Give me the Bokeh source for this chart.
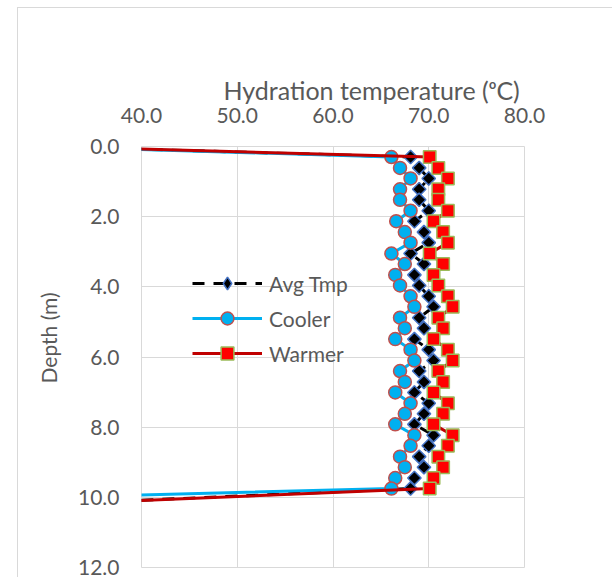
import math
from bokeh.plotting import figure
from bokeh.models import (Range1d, Legend, LegendItem, Title,
                          FixedTicker, NumeralTickFormatter)
from bokeh.embed import file_html
from bokeh.resources import INLINE

# ---------------- data ----------------
x_ticks = [40, 50, 60, 70, 80]
y_ticks = [0, 2, 4, 6, 8, 10, 12]

# depths of the measured points (m)
depth_pts = [0.30, 0.61, 0.91, 1.22, 1.52, 1.83, 2.13, 2.44, 2.74, 3.05,
             3.35, 3.66, 3.96, 4.27, 4.57, 4.88, 5.18, 5.49, 5.79, 6.10,
             6.40, 6.71, 7.01, 7.32, 7.62, 7.92, 8.23, 8.53, 8.84, 9.14,
             9.45, 9.75]

avg_tmp = [68.1, 69.0, 70.0, 69.0, 69.0, 70.0, 68.5, 69.5, 70.0, 68.1,
           69.5, 68.5, 69.0, 70.0, 70.5, 69.0, 69.5, 68.5, 70.0, 70.5,
           69.0, 69.5, 68.5, 70.0, 69.5, 68.5, 70.5, 70.0, 69.0, 69.5,
           68.5, 68.1]
cooler = [66.1, 67.0, 68.1, 67.0, 67.0, 68.1, 66.6, 67.5, 68.1, 66.1,
          67.5, 66.5, 67.0, 68.1, 68.5, 67.0, 67.5, 66.5, 68.1, 68.5,
          67.0, 67.5, 66.5, 68.1, 67.5, 66.5, 68.5, 68.1, 67.0, 67.5,
          66.5, 66.1]
warmer = [70.1, 71.0, 72.0, 71.0, 71.0, 72.0, 70.5, 71.5, 72.0, 70.1,
          71.5, 70.5, 71.0, 72.0, 72.5, 71.0, 71.5, 70.5, 72.0, 72.5,
          71.0, 71.5, 70.5, 72.0, 71.5, 70.5, 72.5, 72.0, 71.0, 71.5,
          70.5, 70.1]

# off-scale end points (surface / toe ambient temperature)
end_temp = 30.0
top_depth = 0.0
bottom_depth_avg = 10.2
bottom_depth_cooler = 10.0
bottom_depth_warmer = 10.2

series_names = ["Avg Tmp", "Cooler", "Warmer"]
x_title = "Hydration temperature (ᵒC)"
y_title = "Depth (m)"

# ---------------- figure ----------------
TXT = "#595959"
GRID = "#d9d9d9"
FONT = "Lato"

p = figure(width=595, height=570, output_backend="svg", toolbar_location=None,
           x_range=Range1d(40, 80), y_range=Range1d(12, 0),
           x_axis_location="above",
           min_border_left=121, min_border_right=89,
           min_border_top=138, min_border_bottom=11)
p.styles = {"margin-left": "17px", "margin-top": "7px",
            "border-left": "1px solid #d9d9d9",
            "border-top": "1px solid #d9d9d9"}
p.background_fill_color = "white"
p.border_fill_color = "white"
p.outline_line_color = GRID
p.outline_line_width = 1

for ax, ticks in ((p.xaxis, x_ticks), (p.yaxis, y_ticks)):
    ax.ticker = FixedTicker(ticks=ticks)
    ax.formatter = NumeralTickFormatter(format="0.0")
    ax.axis_line_color = None
    ax.major_tick_line_color = None
    ax.minor_tick_line_color = None
    ax.major_tick_out = 0
    ax.major_tick_in = 0
    ax.major_label_text_font = FONT
    ax.major_label_text_font_size = "21px"
    ax.major_label_text_color = TXT
p.xaxis.major_label_standoff = 24
p.yaxis.major_label_standoff = 22

p.xgrid.grid_line_color = GRID
p.ygrid.grid_line_color = GRID

# axis titles as side titles (allows Excel-like off-centre placement)
p.add_layout(Title(text=x_title, align="left", offset=82, standoff=0,
                   text_font=FONT, text_font_size="25px",
                   text_font_style="normal", text_color=TXT), "above")
p.add_layout(Title(text=y_title, align="left", offset=184, standoff=30,
                   text_font=FONT, text_font_size="21px",
                   text_font_style="normal", text_color=TXT), "left")

# ---------------- series ----------------
def full(vals, bottom_depth):
    xs = [end_temp] + list(vals) + [end_temp]
    ys = [top_depth] + list(depth_pts) + [bottom_depth]
    return xs, ys

xa, ya = full(avg_tmp, bottom_depth_avg)
xc, yc = full(cooler, bottom_depth_cooler)
xw, yw = full(warmer, bottom_depth_warmer)

AVG_FILL, AVG_EDGE = "black", "#4472c4"

la = p.line(xa, ya, line_color="black", line_width=3, line_dash="12 9")
ma = p.scatter(xa, ya, marker="square", angle=math.pi / 4, size=9.5,
               fill_color=AVG_FILL, line_color=AVG_EDGE, line_width=1.5)
# legend swatch for the diamond (legend ignores marker rotation);
# its single point is the off-scale first point, so it is clipped away
ma_key = p.scatter(xa[:1], ya[:1], marker="diamond", size=17,
                   fill_color=AVG_FILL, line_color=AVG_EDGE, line_width=1.5)

lc = p.line(xc, yc, line_color="#00b0f0", line_width=3)
mc = p.scatter(xc, yc, marker="circle", size=13,
               fill_color="#00b0f0", line_color="#c0504d", line_width=1.5)

lw = p.line(xw, yw, line_color="#c00000", line_width=3)
mw = p.scatter(xw, yw, marker="square", size=12.5,
               fill_color="#ff0000", line_color="#9bbb59", line_width=1.5)

legend = Legend(items=[LegendItem(label=series_names[0], renderers=[la, ma_key]),
                       LegendItem(label=series_names[1], renderers=[lc, mc]),
                       LegendItem(label=series_names[2], renderers=[lw, mw])],
                location=(51, 198), background_fill_alpha=0,
                border_line_color=None, glyph_width=70, glyph_height=32,
                label_height=20, spacing=3, padding=0, margin=0,
                label_standoff=7, label_text_font=FONT,
                label_text_font_size="21px", label_text_color=TXT)
p.add_layout(legend)

open("out.html", "w").write(file_html(p, INLINE))
